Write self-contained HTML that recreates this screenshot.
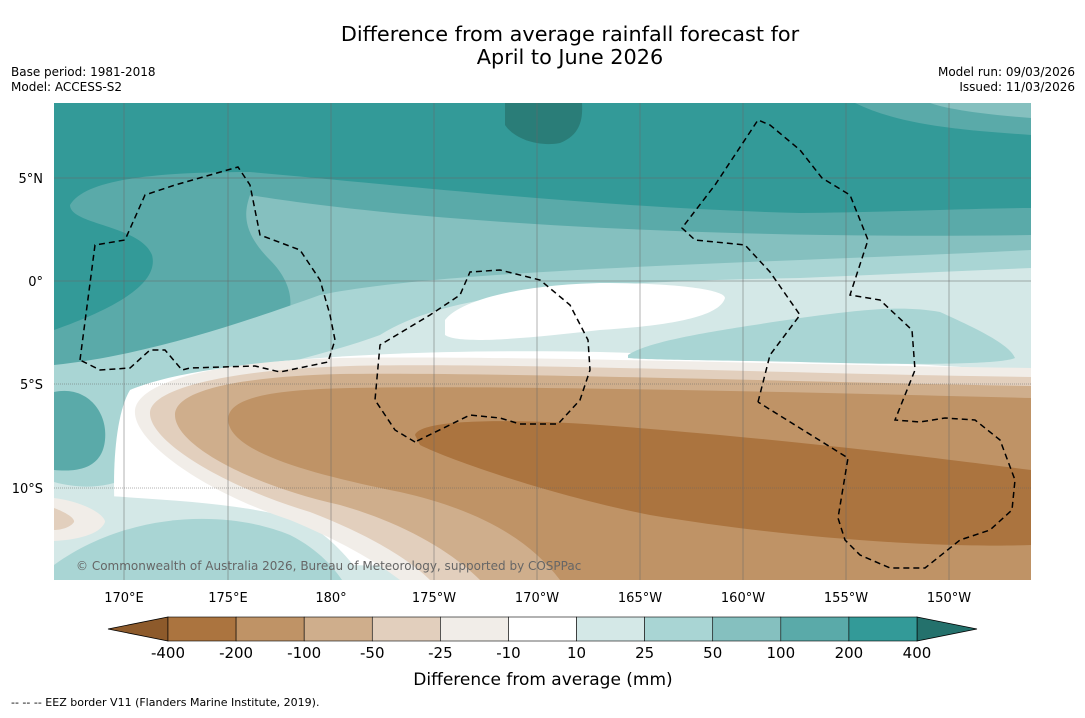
<!DOCTYPE html>
<html><head><meta charset="utf-8"><style>
body{margin:0;background:#fff;font-family:"Liberation Sans","DejaVu Sans",sans-serif;}
svg text{font-family:"DejaVu Sans","Liberation Sans",sans-serif;}
</style></head><body>
<svg id="chart" width="1085" height="713" viewBox="0 0 1085 713">
<rect width="1085" height="713" fill="#fff"/>
<text x="570" y="41" text-anchor="middle" font-size="20.8">Difference from average rainfall forecast for</text>
<text x="570" y="64" text-anchor="middle" font-size="20.8">April to June 2026</text>
<text x="11" y="76" font-size="12">Base period: 1981-2018</text>
<text x="11" y="91" font-size="12">Model: ACCESS-S2</text>
<text x="1075" y="76" font-size="12" text-anchor="end">Model run: 09/03/2026</text>
<text x="1075" y="91" font-size="12" text-anchor="end">Issued: 11/03/2026</text>
<defs><clipPath id="mc"><rect x="54" y="103" width="977" height="477"/></clipPath></defs>
<g clip-path="url(#mc)">
<rect x="54" y="103" width="977" height="477" fill="#339a98"/>
<path d="M505,103 L582,103 C583,120 580,135 560,143 C540,147 515,140 505,125 Z" fill="#2a7d78"/>
<path d="M855,103 L1031,103 L1031,135 C960,130 900,125 855,103 Z" fill="#5aaaa9"/>
<path d="M930,103 L1031,103 L1031,118 C990,115 950,110 930,103 Z" fill="#85c0bf"/>
<path d="M54,330 C110,310 160,285 152,255 C140,225 70,225 70,205 C85,180 150,172 250,172 C400,185 600,208 800,213 C900,212 980,208 1031,208 L1031,580 L54,580 Z" fill="#5aaaa9"/>
<path d="M250,195 C400,220 700,240 1031,235 L1031,580 L54,580 L54,400 C120,390 200,370 250,350 C300,330 300,290 270,260 C240,230 245,210 250,195 Z" fill="#85c0bf"/>
<path d="M54,365 C150,355 250,320 320,295 C450,268 800,262 1031,250 L1031,580 L54,580 Z" fill="#a9d5d4"/>
<path d="M54,392 C85,385 108,410 105,440 C102,470 75,472 54,470 Z" fill="#5aaaa9"/>
<path d="M54,482 C100,495 150,480 160,440 C170,380 300,365 380,335 C450,290 600,282 800,278 L1031,268 L1031,580 L54,580 Z" fill="#d4e8e7"/>
<path d="M120,560 C110,500 112,420 130,390 C200,360 400,348 600,352 C800,358 950,365 1031,372 L1031,580 Z" fill="#fff"/>
<path d="M445,320 C460,300 520,285 600,283 C680,283 725,290 725,298 C720,315 680,325 600,330 C530,338 460,345 445,335 Z" fill="#fff"/>
<path d="M628,355 C650,340 720,330 800,318 C860,310 900,305 940,312 C980,330 1010,345 1015,358 C1000,365 900,365 800,362 C700,360 650,360 628,358 Z" fill="#a9d5d4"/>
<path d="M54,492 C150,500 230,500 300,520 C330,535 350,560 365,580 L54,580 Z" fill="#d4e8e7"/>
<path d="M54,565 C130,510 230,510 290,535 C320,550 335,570 342,580 L54,580 Z" fill="#a9d5d4"/>
<path d="M54,498 C85,502 105,515 105,522 C100,535 75,540 54,541 Z" fill="#f1ede8"/>
<path d="M54,508 C65,512 75,518 74,522 C70,528 60,530 54,530 Z" fill="#e2cfbd"/>
<path d="M1031,368 C800,365 500,355 340,358 C200,362 138,385 135,410 C132,440 200,490 290,520 C350,545 380,565 400,580 L1031,580 Z" fill="#f1ede8"/>
<path d="M1031,377 C800,374 500,362 350,366 C220,370 152,390 150,412 C148,440 220,485 310,512 C370,535 410,560 430,580 L1031,580 Z" fill="#e2cfbd"/>
<path d="M1031,386 C800,382 500,372 340,374 C230,377 175,392 175,415 C175,445 250,485 340,505 C410,525 455,555 480,580 L1031,580 Z" fill="#cfae8c"/>
<path d="M1031,398 C800,392 500,385 350,388 C260,390 228,400 228,420 C230,450 300,472 400,492 C480,510 530,540 560,580 L1031,580 Z" fill="#bf9366"/>
<path d="M415,435 C420,420 500,418 600,425 C800,440 950,460 1031,470 L1031,545 C950,548 800,540 650,515 C550,495 450,460 420,445 Z" fill="#ab743f"/>
<g stroke="#666" stroke-width="0.5">
<line x1="124" y1="103" x2="124" y2="580"/><line x1="228" y1="103" x2="228" y2="580"/><line x1="331" y1="103" x2="331" y2="580"/><line x1="434" y1="103" x2="434" y2="580"/><line x1="537" y1="103" x2="537" y2="580"/><line x1="640" y1="103" x2="640" y2="580"/><line x1="743" y1="103" x2="743" y2="580"/><line x1="846" y1="103" x2="846" y2="580"/><line x1="949" y1="103" x2="949" y2="580"/>
<line x1="54" y1="178" x2="1031" y2="178"/><line x1="54" y1="281" x2="1031" y2="281"/>
<line x1="54" y1="384" x2="1031" y2="384" stroke-dasharray="1,1"/><line x1="54" y1="488" x2="1031" y2="488" stroke-dasharray="1,1"/>
</g>
<g fill="none" stroke="#000" stroke-width="1.5" stroke-dasharray="6,4">
<polyline points="80,360 95,245 125,240 145,195 175,185 238,167 250,185 260,235 300,250 320,280 330,315 335,340 328,362 280,372 255,366 190,368 182,370 165,350 150,350 130,368 100,370 80,360"/>
<polyline points="415,442 395,430 375,400 380,345 430,315 460,295 470,272 500,270 540,280 570,305 588,340 590,370 580,400 558,424 520,424 500,418 470,415 415,442"/>
<polyline points="758,402 770,355 800,315 770,272 745,245 695,240 682,228 715,185 758,120 770,125 800,150 822,178 850,195 868,240 850,295 880,300 912,330 915,370 895,420 920,422 945,418 975,420 1000,440 1015,480 1012,510 990,530 960,540 925,568 890,568 860,555 845,540 838,518 848,458 758,402"/>
</g>
<text x="76" y="570" font-size="12" fill="#666">© Commonwealth of Australia 2026, Bureau of Meteorology, supported by COSPPac</text>
</g>
<g font-size="13" text-anchor="middle">
<text x="124" y="602">170°E</text><text x="228" y="602">175°E</text><text x="331" y="602">180°</text><text x="434" y="602">175°W</text><text x="537" y="602">170°W</text><text x="640" y="602">165°W</text><text x="743" y="602">160°W</text><text x="846" y="602">155°W</text><text x="949" y="602">150°W</text>
</g>
<g font-size="13" text-anchor="end">
<text x="43" y="183">5°N</text><text x="43" y="286">0°</text><text x="43" y="389">5°S</text><text x="43" y="493">10°S</text>
</g>
<g id="cbar"></g>
<text x="543" y="685" text-anchor="middle" font-size="17">Difference from average (mm)</text>
<text x="11" y="706" font-size="11">--  --  -- EEZ border V11 (Flanders Marine Institute, 2019).</text>
</svg>
<script>
const levels = ["-400","-200","-100","-50","-25","-10","10","25","50","100","200","400"];
const colors = ["#ab743f","#bf9366","#cfae8c","#e2cfbd","#f1ede8","#ffffff","#d4e8e7","#a9d5d4","#85c0bf","#5aaaa9","#339a98"];
const g = document.getElementById('cbar');
const NS = "http://www.w3.org/2000/svg";
const x0 = 168, x1 = 917, y0 = 617, h = 24;
const w = (x1 - x0) / colors.length;
function mk(tag, attrs){const e=document.createElementNS(NS,tag);for(const k in attrs)e.setAttribute(k,attrs[k]);return e;}
const la = mk('polygon',{points:`108,${y0+h/2} ${x0},${y0} ${x0},${y0+h}`,fill:'#8d5a2b',stroke:'#000','stroke-width':0.8});


g.appendChild(la);
const ra = mk('polygon',{points:`${x1},${y0} 977,${y0+h/2} ${x1},${y0+h}`,fill:'#24716c',stroke:'#000','stroke-width':0.8});


g.appendChild(ra);
colors.forEach((c,i)=>{
  const r = mk('rect',{x:x0+i*w,y:y0,width:w,height:h,fill:c,stroke:'#000','stroke-width':0.6});
  
  
  g.appendChild(r);
});
levels.forEach((l,i)=>{
  const t = mk('text',{x:x0+i*w,y:658,'text-anchor':'middle','font-size':15});
  t.textContent = l;
  
  
  g.appendChild(t);
});
</script>
</body></html>
